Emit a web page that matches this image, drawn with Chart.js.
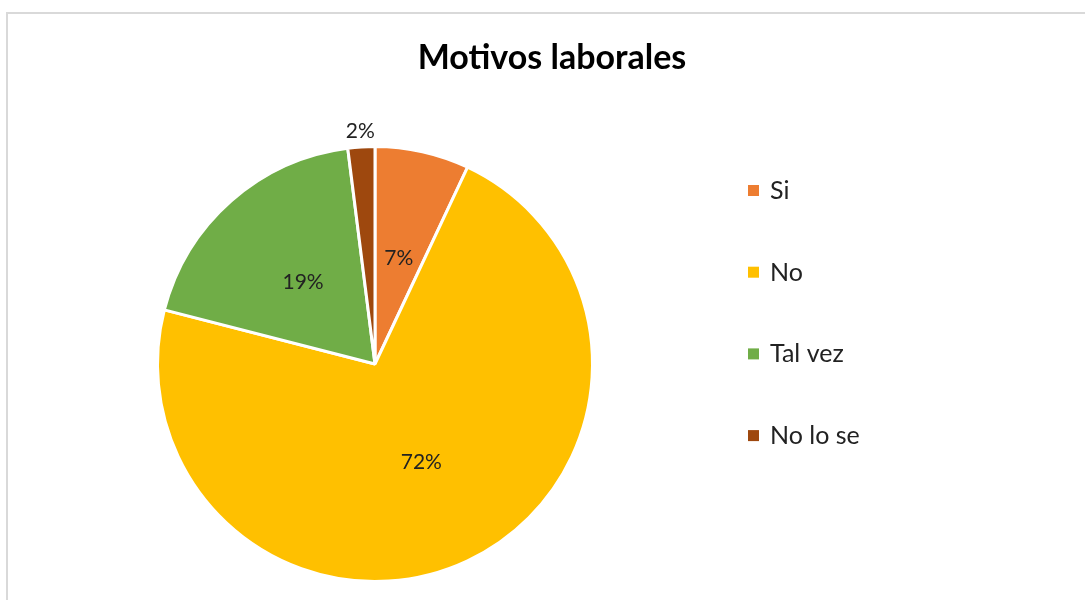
<!DOCTYPE html>
<html>
<head>
<meta charset="utf-8">
<script src="https://cdn.jsdelivr.net/npm/chart.js@4/dist/chart.umd.min.js"></script>
<style>
  html, body { margin: 0; padding: 0; background: #fff; }
  #wrap { position: relative; width: 1085px; height: 600px; overflow: hidden; }
  #frame { position: absolute; left: 6px; top: 12px; width: 1200px; height: 700px;
           border-left: 2px solid #d9d9d9; border-top: 2px solid #d9d9d9; }
  #chart { position: absolute; left: 0; top: 0; }
</style>
</head>
<body>
<div id="wrap">
  <div id="frame"></div>
  <canvas id="chart" width="1085" height="600"></canvas>
</div>
<script>
const titulo = 'Motivos laborales';
const categorias = ['Si', 'No', 'Tal vez', 'No lo se'];
const valores = [7, 72, 19, 2];
const colores = ['#ED7D31', '#FFC000', '#70AD47', '#9E480E'];

const fuente = 'Lato, "Noto Sans", sans-serif';

// titulo, etiquetas y leyenda dibujados a mano para dejarlos donde van
const extras = {
    id: 'extras',
    afterDraw(chart) {
        const c = chart.ctx;
        const meta = chart.getDatasetMeta(0);
        c.save();

        c.fillStyle = '#000';
        c.font = 'bold 34px ' + fuente;
        c.textAlign = 'center';
        c.textBaseline = 'middle';
        c.fillText(titulo, 552, 58);

        c.font = '21px ' + fuente;
        c.fillStyle = '#222';
        meta.data.forEach((arc, i) => {
            const v = valores[i];
            let p;
            if (v < 5) {
                const ang = (arc.startAngle + arc.endAngle) / 2;
                const r = arc.outerRadius + 16;
                p = { x: arc.x + Math.cos(ang) * r, y: arc.y + Math.sin(ang) * r };
            } else {
                p = arc.tooltipPosition();
            }
            c.fillText(v + '%', p.x, p.y);
        });

        c.textAlign = 'left';
        c.font = '25px ' + fuente;
        categorias.forEach((cat, i) => {
            const y = 190 + i * 81.7;
            c.fillStyle = colores[i];
            c.fillRect(748, y - 5, 11, 11);
            c.fillStyle = '#222';
            c.fillText(cat, 770, y + 1);
        });
        c.restore();
    }
};

new Chart(document.querySelector('#chart').getContext('2d'), {
    type: 'pie',
    data: {
        labels: categorias,
        datasets: [{
            data: valores,
            backgroundColor: colores,
            borderColor: '#ffffff',
            borderWidth: 3
        }]
    },
    options: {
        responsive: false,
        animation: false,
        layout: { padding: { left: 156, right: 491, top: 144, bottom: 16 } },
        plugins: {
            legend: { display: false },
            title: { display: false },
            tooltip: { enabled: false }
        }
    },
    plugins: [extras]
});
</script>
</body>
</html>
